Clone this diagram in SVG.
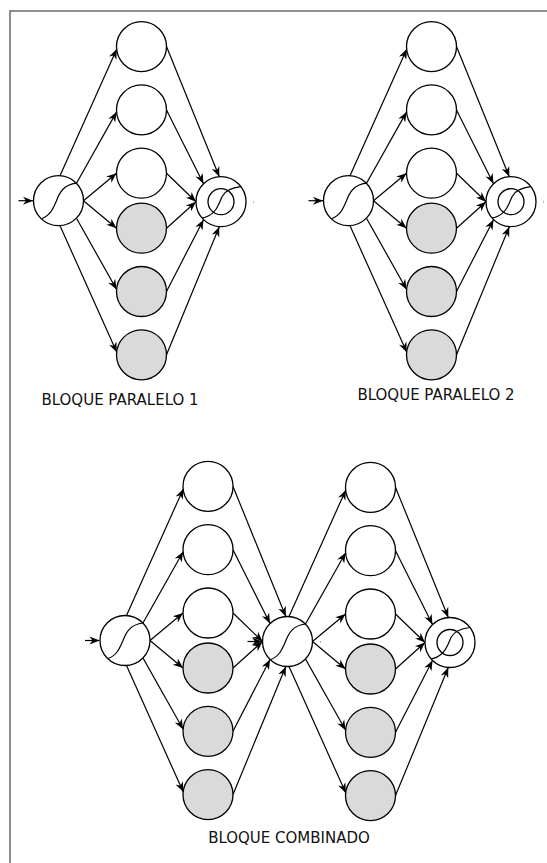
<svg xmlns="http://www.w3.org/2000/svg" width="547" height="863" viewBox="0 0 547 863">
<style>
.n{fill:#fff;stroke:#000;stroke-width:1.3}
.g{fill:#dadada;stroke:#000;stroke-width:1.3}
.c{fill:none;stroke:#000;stroke-width:1.2}
.a{fill:none;stroke:#000;stroke-width:1.2;marker-end:url(#ah)}
.lbl{font-family:"DejaVu Sans",sans-serif;font-size:15px;fill:#111;text-anchor:middle}
.dot{fill:#bbb}
</style>
<defs>
<marker id="ah" markerWidth="12" markerHeight="10" viewBox="-11 -5 12 10" refX="0" refY="0" orient="auto" markerUnits="userSpaceOnUse">
<path d="M0,0 L-10,-4 L-7,0 L-10,4 Z" fill="#000"/>
</marker>
<g id="splitSym"><circle r="25" class="n"/><path class="c" d="M-17,18 C-8,15 -5,7 -2,0 C1,-8 5,-16 18,-17.5"/></g>
<g id="mergeSym"><circle r="25" class="n"/><circle r="13" class="n"/><path class="c" d="M-19,16.5 C-9,14 -5,9 -2,2 L1,-5 C4,-11 10,-14 20,-15"/></g>
<g id="fan">
<path class="a" d="M1.5,-25 L58.3,-151.6"/>
<path class="a" d="M18,-17.5 L58.1,-88.8"/>
<path class="a" d="M25,0 L58,-27.5"/>
<path class="a" d="M25,0 L58,27.5"/>
<path class="a" d="M18,17.5 L58.1,88.8"/>
<path class="a" d="M1.5,25 L58.3,151.6"/>
<path class="a" d="M108,-154.1 L160.8,-24"/>
<path class="a" d="M108,-90.8 L145,-17"/>
<path class="a" d="M108,-27.5 L137.5,1"/>
<path class="a" d="M108,27.5 L137.5,1"/>
<path class="a" d="M108,90.8 L145,19"/>
<path class="a" d="M108,154.1 L160.8,26"/>
<path class="a" d="M-40,0 L-25.5,0"/>
</g>
</defs>
<rect id="frame" x="10" y="11" width="560" height="880" fill="none" stroke="#6a6a6a" stroke-width="1.5"/>
<g id="connectors">
<use href="#fan" transform="translate(58.5,200.7)"/>
<use href="#fan" transform="translate(348.5,200.7)"/>
<use href="#fan" transform="translate(125,640.5)"/>
<use href="#fan" transform="translate(287.5,641.5)"/>
</g>
<g id="b1-split"><use href="#splitSym" transform="translate(58.5,200.7)"/></g>
<g id="b1-n1"><circle class="n" cx="141.5" cy="46.6" r="25"/></g>
<g id="b1-n2"><circle class="n" cx="141.5" cy="109.9" r="25"/></g>
<g id="b1-n3"><circle class="n" cx="141.5" cy="173.2" r="25"/></g>
<g id="b1-n4"><circle class="g" cx="141.5" cy="228.2" r="25"/></g>
<g id="b1-n5"><circle class="g" cx="141.5" cy="291.5" r="25"/></g>
<g id="b1-n6"><circle class="g" cx="141.5" cy="354.8" r="25"/></g>
<g id="b1-merge"><use href="#mergeSym" transform="translate(221,201.7)"/></g>
<g id="b2-split"><use href="#splitSym" transform="translate(348.5,200.7)"/></g>
<g id="b2-n1"><circle class="n" cx="431.5" cy="46.6" r="25"/></g>
<g id="b2-n2"><circle class="n" cx="431.5" cy="109.9" r="25"/></g>
<g id="b2-n3"><circle class="n" cx="431.5" cy="173.2" r="25"/></g>
<g id="b2-n4"><circle class="g" cx="431.5" cy="228.2" r="25"/></g>
<g id="b2-n5"><circle class="g" cx="431.5" cy="291.5" r="25"/></g>
<g id="b2-n6"><circle class="g" cx="431.5" cy="354.8" r="25"/></g>
<g id="b2-merge"><use href="#mergeSym" transform="translate(511,201.7)"/></g>
<g id="c-split"><use href="#splitSym" transform="translate(125,640.5)"/></g>
<g id="c-n1"><circle class="n" cx="208" cy="486.4" r="25"/></g>
<g id="c-n2"><circle class="n" cx="208" cy="549.7" r="25"/></g>
<g id="c-n3"><circle class="n" cx="208" cy="613" r="25"/></g>
<g id="c-n4"><circle class="g" cx="208" cy="668" r="25"/></g>
<g id="c-n5"><circle class="g" cx="208" cy="731.3" r="25"/></g>
<g id="c-n6"><circle class="g" cx="208" cy="794.6" r="25"/></g>
<g id="c-mid"><use href="#splitSym" transform="translate(287.5,641.5)"/></g>
<g id="c-m1"><circle class="n" cx="370.5" cy="487.4" r="25"/></g>
<g id="c-m2"><circle class="n" cx="370.5" cy="550.7" r="25"/></g>
<g id="c-m3"><circle class="n" cx="370.5" cy="614" r="25"/></g>
<g id="c-m4"><circle class="g" cx="370.5" cy="669" r="25"/></g>
<g id="c-m5"><circle class="g" cx="370.5" cy="732.3" r="25"/></g>
<g id="c-m6"><circle class="g" cx="370.5" cy="795.6" r="25"/></g>
<g id="c-merge"><use href="#mergeSym" transform="translate(450,642.5)"/></g>
<rect class="dot" x="253" y="201" width="1" height="2"/>
<rect class="dot" x="543" y="201" width="1" height="2"/>
<rect class="dot" x="320" y="641" width="1" height="2"/>
<text class="lbl" x="120" y="405">BLOQUE PARALELO 1</text>
<text class="lbl" x="436" y="400">BLOQUE PARALELO 2</text>
<text class="lbl" x="289" y="843">BLOQUE COMBINADO</text>
</svg>
